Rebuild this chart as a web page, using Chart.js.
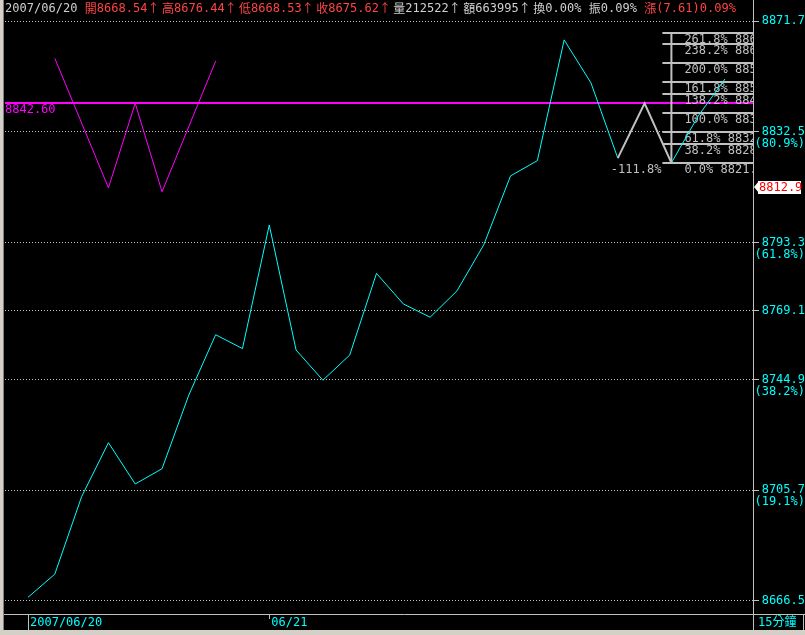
<!DOCTYPE html>
<html>
<head>
<meta charset="utf-8">
<script src="https://cdn.jsdelivr.net/npm/chart.js@4"></script>
<style>
  html, body { margin: 0; padding: 0; background: #000; }
  canvas { display: block; }
</style>
</head>
<body>
<canvas id="kChart" width="805" height="635"></canvas>
<script>
// 15-minute closes
const prices = [8667.8, 8676.0, 8703.4, 8722.5, 8707.9, 8713.3, 8739.4, 8760.7, 8755.8, 8799.5,
  8755.3, 8744.6, 8753.5, 8782.4, 8771.6, 8766.9, 8776.2, 8792.5, 8816.9, 8822.3,
  8865.0, 8849.8, 8823.2, 8842.6, 8821.5, 8838.1, 8851.2];
const xTickIdx = [0, 9];
const xTickText = ['2007/06/20', '06/21'];
const yTicks = [8666.5, 8705.7, 8744.9, 8769.1, 8793.3, 8832.5, 8871.7];
const yPct = ['', '19.1%', '38.2%', '', '61.8%', '80.9%', ''];

// W pattern icon (magenta) and neckline
const wIdx = [1, 3, 4, 5, 7];
const wVals = [8858.5, 8812.7, 8842.6, 8811.3, 8857.5];
const necklineValue = 8842.6;

// highlighted swing (white) and fibonacci levels
const markIdx = [22, 23, 24];
const fibLevels = [0, 38.2, 61.8, 100, 138.2, 161.8, 200, 238.2, 261.8];
const fibBase = 8821.5;
const fibTop = 8839.1;
const fibIdx = 24;
const lastTag = 8812.9;

const headerParts = [
  ['2007/06/20 ', '#d0d0d0'],
  ['開8668.54↑高8676.44↑低8668.53↑收8675.62↑', '#ff4444'],
  ['量212522↑額663995↑換0.00% 振0.09% ', '#d0d0d0'],
  ['漲(7.61)0.09%', '#ff4444']
];

const MONO = '"DejaVu Sans Mono", "Noto Sans CJK TC", monospace';
const CJK = '"Noto Sans CJK TC", "DejaVu Sans Mono", sans-serif';
const GRAY = '#c0c0c0';

function charAdvance(ch) {
  if (ch === '↑') return 14.4;
  return ch.charCodeAt(0) < 128 ? 7.25 : 12;
}

const overlay = {
  id: 'overlay',
  beforeDraw(chart) {
    const c = chart.ctx;
    c.save();
    c.fillStyle = '#000';
    c.fillRect(0, 0, chart.width, chart.height);
    c.fillStyle = '#d4d0c8';
    c.fillRect(0, 0, 4, chart.height);
    c.fillRect(0, 630, chart.width, 5);
    c.fillStyle = '#808080';
    c.fillRect(3, 0, 1, 630);
    c.restore();
  },
  beforeDatasetsDraw(chart) {
    const c = chart.ctx, a = chart.chartArea;
    const xs = chart.scales.x, ys = chart.scales.y;
    c.save();
    c.beginPath();
    c.rect(a.left, a.top, a.right - a.left, a.bottom - a.top);
    c.clip();

    // neckline
    const ny = Math.round(ys.getPixelForValue(necklineValue));
    c.strokeStyle = '#ff00ff';
    c.lineWidth = 2;
    c.beginPath();
    c.moveTo(a.left, ny);
    c.lineTo(a.right, ny);
    c.stroke();
    c.fillStyle = '#ff00ff';
    c.font = '12px ' + MONO;
    c.textBaseline = 'top';
    c.fillText(necklineValue.toFixed(2), a.left, ny + 1);

    // fibonacci ladder
    const fx = xs.getPixelForValue(fibIdx);
    const span = fibTop - fibBase;
    c.strokeStyle = GRAY;
    c.lineWidth = 2;
    const topY = ys.getPixelForValue(fibBase + span * fibLevels[fibLevels.length - 1] / 100);
    const botY = ys.getPixelForValue(fibBase);
    c.beginPath();
    c.moveTo(fx, topY);
    c.lineTo(fx, botY);
    c.stroke();
    c.fillStyle = GRAY;
    fibLevels.forEach(lv => {
      const v = fibBase + span * lv / 100;
      const py = Math.round(ys.getPixelForValue(v));
      c.beginPath();
      c.moveTo(fx - 9, py);
      c.lineTo(a.right, py);
      c.stroke();
      c.fillText(lv.toFixed(1) + '% ' + v.toFixed(1), fx + 13, py + 1);
    });

    // swing label under the first white point
    const sx = xs.getPixelForValue(markIdx[0]);
    const sy = ys.getPixelForValue(prices[markIdx[0]]);
    c.fillText('-111.8%', sx - 7, sy + 6);
    c.restore();
  },
  afterDraw(chart) {
    const c = chart.ctx, a = chart.chartArea;
    const xs = chart.scales.x, ys = chart.scales.y;
    c.save();
    c.textBaseline = 'middle';

    // header line
    let hx = 5;
    headerParts.forEach(([txt, col]) => {
      c.fillStyle = col;
      for (const ch of txt) {
        c.font = ch.charCodeAt(0) < 128 ? '12px ' + MONO : '12px ' + CJK;
        c.fillText(ch, hx, 8.5);
        hx += charAdvance(ch);
      }
    });
    c.font = '12px ' + MONO;

    // frame
    c.strokeStyle = GRAY;
    c.lineWidth = 1;
    c.beginPath();
    c.moveTo(a.right + 0.5, 0);
    c.lineTo(a.right + 0.5, 630);
    c.moveTo(4, a.bottom + 0.5);
    c.lineTo(805, a.bottom + 0.5);
    const x0 = Math.round(xs.getPixelForValue(0)) + 0.5;
    c.moveTo(x0, a.bottom);
    c.lineTo(x0, 630);
    c.moveTo(803.5, a.bottom);
    c.lineTo(803.5, 630);
    c.stroke();

    c.fillStyle = '#00ffff';
    c.fillText('15分鐘', a.right + 5, a.bottom + 8.5);

    // last price tag
    const ty = Math.round(ys.getPixelForValue(lastTag));
    c.fillStyle = '#ffffff';
    c.beginPath();
    c.moveTo(a.right + 1, ty);
    c.lineTo(a.right + 6, ty - 6);
    c.lineTo(a.right + 6, ty + 6);
    c.closePath();
    c.fill();
    c.fillRect(a.right + 5, ty - 6, 43, 13);
    c.fillStyle = '#ff0000';
    c.fillText(lastTag.toFixed(1), a.right + 6, ty + 0.5);
    c.restore();
  }
};

new Chart(document.getElementById('kChart'), {
  type: 'line',
  data: {
    datasets: [
      {
        data: markIdx.map(i => ({ x: i, y: prices[i] })),
        borderColor: GRAY,
        borderWidth: 2,
        order: 0
      },
      {
        data: prices.map((v, i) => ({ x: i, y: v })),
        borderColor: '#00ffff',
        borderWidth: 1,
        order: 1
      },
      {
        data: wIdx.map((i, k) => ({ x: i, y: wVals[k] })),
        borderColor: '#ff00ff',
        borderWidth: 1,
        order: 2
      }
    ]
  },
  options: {
    responsive: false,
    animation: false,
    devicePixelRatio: 1,
    layout: { padding: { left: 5, top: 0, right: 0, bottom: 5 } },
    plugins: { legend: { display: false }, tooltip: { enabled: false } },
    elements: { point: { radius: 0 }, line: { tension: 0 } },
    scales: {
      x: {
        type: 'linear',
        min: -0.858,
        max: 27.044,
        afterBuildTicks: s => { s.ticks = xTickIdx.map(v => ({ value: v })); },
        afterFit: s => { s.height = 16; },
        grid: { drawOnChartArea: false, tickLength: 5, tickColor: GRAY, lineWidth: 1 },
        border: { display: false },
        ticks: {
          color: '#00ffff',
          font: { family: MONO, size: 12 },
          align: 'start',
          padding: -3,
          labelOffset: 2,
          maxRotation: 0,
          autoSkip: false,
          callback: v => xTickText[xTickIdx.indexOf(v)] || ''
        }
      },
      y: {
        position: 'right',
        min: 8661.9,
        max: 8879.13,
        afterBuildTicks: s => { s.ticks = yTicks.map(v => ({ value: v })); },
        afterFit: s => { s.width = 52; },
        grid: {
          color: GRAY,
          lineWidth: 1,
          tickLength: 6,
          tickColor: GRAY,
          tickBorderDash: []
        },
        border: { display: false, dash: [1, 2] },
        ticks: {
          color: '#00ffff',
          font: { family: MONO, size: 12, lineHeight: 1 },
          crossAlign: 'far',
          padding: -8,
          autoSkip: false,
          callback: v => {
            const k = yTicks.indexOf(v);
            const txt = v.toFixed(1);
            return yPct[k] ? ['', txt, '(' + yPct[k] + ')'] : txt;
          }
        }
      }
    }
  },
  plugins: [overlay]
});
</script>
</body>
</html>
